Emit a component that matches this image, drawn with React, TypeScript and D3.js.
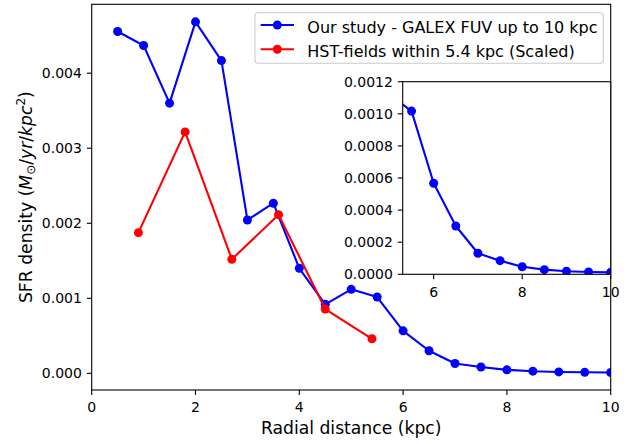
import React from "react";
import * as d3 from "d3";

const blueX = [0.5, 1, 1.5, 2, 2.5, 3, 3.5, 4, 4.5, 5, 5.5, 6, 6.5, 7, 7.5, 8, 8.5, 9, 9.5, 10];
const blueY = [
  0.004555, 0.004368, 0.0036, 0.004684, 0.004168, 0.002044, 0.002267, 0.0014, 0.00092, 0.00112,
  0.001017, 0.000567, 0.000301, 0.000131, 0.000085, 0.000047, 0.000029, 0.000019, 0.000014, 0.000012,
];
const redX = [0.9, 1.8, 2.7, 3.6, 4.5, 5.4];
const redY = [0.001875, 0.003217, 0.00152, 0.002115, 0.000857, 0.000461];

const mainXTicks = [0, 2, 4, 6, 8, 10];
const mainYTicks = [0, 0.001, 0.002, 0.003, 0.004];
const insetXTicks = [6, 8, 10];
const insetYTicks = [0, 0.0002, 0.0004, 0.0006, 0.0008, 0.001, 0.0012];
const seriesLabels = ["Our study - GALEX FUV up to 10 kpc", "HST-fields within 5.4 kpc (Scaled)"];
const seriesColors = ["#0000ff", "#ff0000"];

const FONT = "DejaVu Sans, sans-serif";

export default function App() {
  // main axes box
  const mL = 91.7, mR = 610.7, mT = 4.3, mB = 390;
  const allY = blueY.concat(redY);
  const yMin = d3.min(allY)!, yMax = d3.max(allY)!;
  const pad = (yMax - yMin) * 0.05;
  const x = d3.scaleLinear().domain([0, 10]).range([mL, mR]);
  const y = d3.scaleLinear().domain([yMin - pad, yMax + pad]).range([mB, mT]);

  // inset axes box
  const iL = 402.7, iR = 610.7, iT = 81.7, iB = 274.3;
  const ix = d3.scaleLinear().domain([5.3, 10]).range([iL, iR]);
  const iy = d3.scaleLinear().domain([0, 0.0012]).range([iB, iT]);

  const blue = blueX.map((v, i) => [v, blueY[i]] as [number, number]);
  const red = redX.map((v, i) => [v, redY[i]] as [number, number]);

  const line = d3.line<[number, number]>().x((d) => x(d[0])).y((d) => y(d[1]));
  const iline = d3.line<[number, number]>().x((d) => ix(d[0])).y((d) => iy(d[1]));

  const tickLen = 4.9;
  const tickPad = 4.9;
  const tickFs = 14;
  const lw = 2.1;
  const mr = 4.5;

  return (
    <svg
      width={633}
      height={444}
      style={{ position: "absolute", left: 0, top: 0, background: "#fff" }}
      fontFamily={FONT}
    >
      <defs>
        <clipPath id="mainClip">
          <rect x={mL} y={mT} width={mR - mL} height={mB - mT} />
        </clipPath>
        <clipPath id="insetClip">
          <rect x={iL} y={iT} width={iR - iL} height={iB - iT} />
        </clipPath>
      </defs>
      <rect x={0} y={0} width={633} height={444} fill="#fff" />

      {/* main series */}
      <g clipPath="url(#mainClip)">
        <path d={line(blue)!} fill="none" stroke={seriesColors[0]} strokeWidth={lw} strokeLinejoin="round" />
        {blue.map((d, i) => (
          <circle key={"b" + i} cx={x(d[0])} cy={y(d[1])} r={mr} fill={seriesColors[0]} />
        ))}
        <path d={line(red)!} fill="none" stroke={seriesColors[1]} strokeWidth={lw} strokeLinejoin="round" />
        {red.map((d, i) => (
          <circle key={"r" + i} cx={x(d[0])} cy={y(d[1])} r={mr} fill={seriesColors[1]} />
        ))}
      </g>

      {/* main spines */}
      <rect x={mL} y={mT} width={mR - mL} height={mB - mT} fill="none" stroke="#000" strokeWidth={1.1} />

      {/* main x ticks */}
      {mainXTicks.map((t) => (
        <g key={"mx" + t}>
          <line x1={x(t)} x2={x(t)} y1={mB} y2={mB + tickLen} stroke="#000" strokeWidth={1.1} />
          <text x={x(t)} y={mB + 22.3} fontSize={tickFs} textAnchor="middle" fill="#000">
            {t}
          </text>
        </g>
      ))}
      {/* main y ticks */}
      {mainYTicks.map((t) => (
        <g key={"my" + t}>
          <line x1={mL - tickLen} x2={mL} y1={y(t)} y2={y(t)} stroke="#000" strokeWidth={1.1} />
          <text x={mL - tickLen - tickPad} y={y(t) + 5.1} fontSize={tickFs} textAnchor="end" fill="#000">
            {t.toFixed(3)}
          </text>
        </g>
      ))}

      {/* axis labels */}
      <text x={(mL + mR) / 2} y={434} fontSize={17.2} textAnchor="middle" fill="#000">
        Radial distance (kpc)
      </text>
      <text
        transform={`translate(31.7,${(mT + mB) / 2}) rotate(-90)`}
        fontSize={17.2}
        textAnchor="middle"
        fill="#000"
      >
        SFR density (<tspan fontStyle="italic">M</tspan>
        <tspan fontSize={12} dy={3}>⊙</tspan>
        <tspan dy={-3}>/</tspan>
        <tspan fontStyle="italic">yr</tspan>/<tspan fontStyle="italic">kpc</tspan>
        <tspan fontSize={12} dy={-7}>2</tspan>
        <tspan dy={7}>)</tspan>
      </text>

      {/* legend */}
      <rect x={255} y={12.7} width={348.3} height={50.6} rx={3} fill="#fff" fillOpacity={0.8} stroke="#cccccc" strokeWidth={1.1} />
      {seriesLabels.map((lab, i) => {
        const cy = 25 + i * 24.3;
        return (
          <g key={"lg" + i}>
            <line x1={260.7} x2={294} y1={cy} y2={cy} stroke={seriesColors[i]} strokeWidth={lw} />
            <circle cx={277.3} cy={cy} r={mr} fill={seriesColors[i]} />
            <text x={307.3} y={cy + 8} fontSize={16} fill="#000">
              {lab}
            </text>
          </g>
        );
      })}

      {/* inset */}
      <rect x={iL} y={iT} width={iR - iL} height={iB - iT} fill="#fff" />
      <g clipPath="url(#insetClip)">
        <path d={iline(blue)!} fill="none" stroke={seriesColors[0]} strokeWidth={lw} strokeLinejoin="round" />
        {blue.map((d, i) => (
          <circle key={"ib" + i} cx={ix(d[0])} cy={iy(d[1])} r={mr} fill={seriesColors[0]} />
        ))}
      </g>
      <rect x={iL} y={iT} width={iR - iL} height={iB - iT} fill="none" stroke="#000" strokeWidth={1.1} />
      {insetXTicks.map((t) => (
        <g key={"ix" + t}>
          <line x1={ix(t)} x2={ix(t)} y1={iB} y2={iB + tickLen} stroke="#000" strokeWidth={1.1} />
          <text x={ix(t)} y={iB + 22.3} fontSize={tickFs} textAnchor="middle" fill="#000">
            {t}
          </text>
        </g>
      ))}
      {insetYTicks.map((t) => (
        <g key={"iy" + t}>
          <line x1={iL - tickLen} x2={iL} y1={iy(t)} y2={iy(t)} stroke="#000" strokeWidth={1.1} />
          <text x={iL - tickLen - tickPad} y={iy(t) + 5.1} fontSize={tickFs} textAnchor="end" fill="#000">
            {t.toFixed(4)}
          </text>
        </g>
      ))}
    </svg>
  );
}
